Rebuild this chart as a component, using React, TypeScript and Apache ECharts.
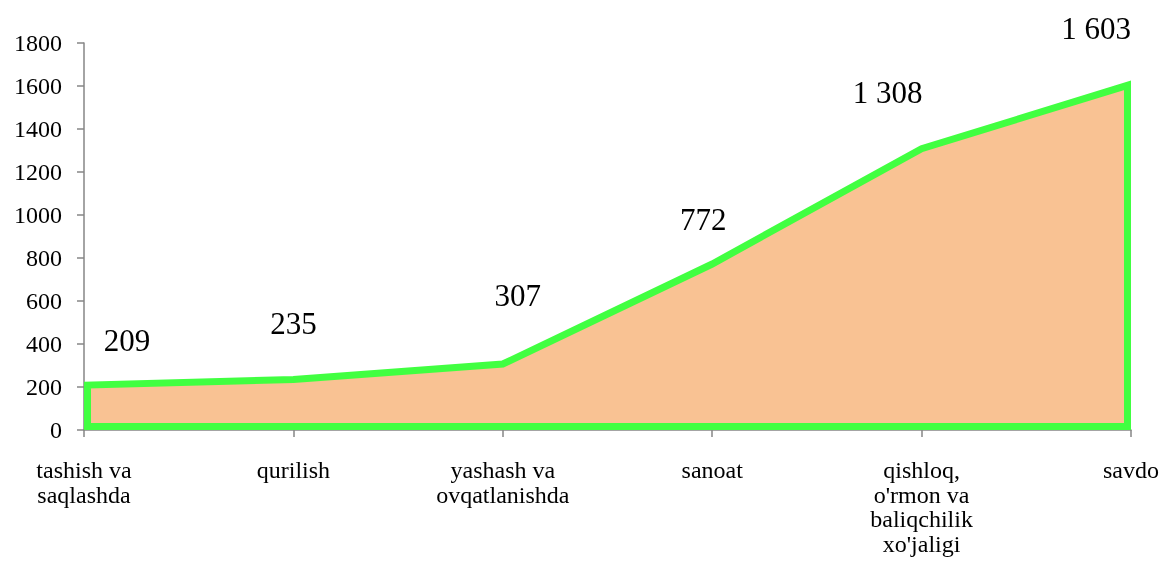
import React, { useEffect, useRef } from "react";
import * as echarts from "echarts";

const categories = [
  "tashish va\nsaqlashda",
  "qurilish",
  "yashash va\novqatlanishda",
  "sanoat",
  "qishloq,\no'rmon va\nbaliqchilik\nxo'jaligi",
  "savdo",
];
const values = [209, 235, 307, 772, 1308, 1603];
const labelOffsets = [
  [43, -45],
  [0, -56],
  [15, -68],
  [-9, -45],
  [-34, -56],
  [-35, -57],
];
const yTicks = { min: 0, max: 1800, interval: 200 };

const SERIF = "Liberation Serif";
const fmt = (v: number) => String(v).replace(/\B(?=(\d{3})+(?!\d))/g, " ");

export default function App() {
  const ref = useRef<HTMLDivElement>(null);
  useEffect(() => {
    if (!ref.current) return;
    const chart = echarts.init(ref.current, undefined, { renderer: "svg" });
    const n = values.length;
    chart.setOption({
      animation: false,
      textStyle: { fontFamily: SERIF },
      grid: { left: 84, right: 37, top: 43, bottom: 148 },
      xAxis: {
        type: "category",
        data: categories,
        boundaryGap: false,
        axisLine: { lineStyle: { color: "#868686", width: 1.5 } },
        axisTick: { show: true, length: 7, lineStyle: { color: "#868686", width: 1.5 } },
        axisLabel: {
          color: "#000",
          fontFamily: SERIF,
          fontSize: 24,
          lineHeight: 24.5,
          margin: 28,
          interval: 0,
          align: "center",
        },
        splitLine: { show: false },
      },
      yAxis: {
        type: "value",
        min: yTicks.min,
        max: yTicks.max,
        interval: yTicks.interval,
        axisLine: { show: true, lineStyle: { color: "#868686", width: 1.5 } },
        axisTick: { show: true, length: 7, lineStyle: { color: "#868686", width: 1.5 } },
        axisLabel: {
          color: "#000",
          fontFamily: SERIF,
          fontSize: 24,
          margin: 22,
          formatter: (v: number) => String(v),
        },
        splitLine: { show: false },
      },
      series: [
        {
          type: "custom",
          data: values.map((v, i) => [i, v]),
          z: 2,
          renderItem: (params: any, api: any) => {
            if (params.dataIndex !== 0) return { type: "group", children: [] };
            const top = values.map((v, i) => api.coord([i, v]));
            const b0 = api.coord([0, 0]);
            const b1 = api.coord([n - 1, 0]);
            const inset = 3.5;
            const pts: number[][] = [];
            pts.push([b0[0] + inset, b0[1] - inset]);
            top.forEach((p: number[], i: number) => {
              let x = p[0];
              if (i === 0) x += inset;
              if (i === n - 1) x -= inset;
              pts.push([x, p[1]]);
            });
            pts.push([b1[0] - inset, b1[1] - inset]);
            return {
              type: "polygon",
              shape: { points: pts },
              style: {
                fill: "#F9C293",
                stroke: "#41FF41",
                lineWidth: 7,
                lineJoin: "miter",
              },
            };
          },
        },
        {
          type: "scatter",
          symbolSize: 0,
          z: 5,
          itemStyle: { opacity: 1 },
          data: values.map((v, i) => ({
            value: [i, v],
            label: { offset: labelOffsets[i] },
          })),
          label: {
            show: true,
            position: "inside",
            color: "#000000",
            opacity: 1,
            fontFamily: SERIF,
            fontSize: 31,
            formatter: (p: any) => fmt(p.value[1]),
          },
        },
      ],
    });
    return () => chart.dispose();
  }, []);
  return (
    <div
      ref={ref}
      style={{ position: "fixed", left: 0, top: 0, width: 1168, height: 578 }}
    />
  );
}
